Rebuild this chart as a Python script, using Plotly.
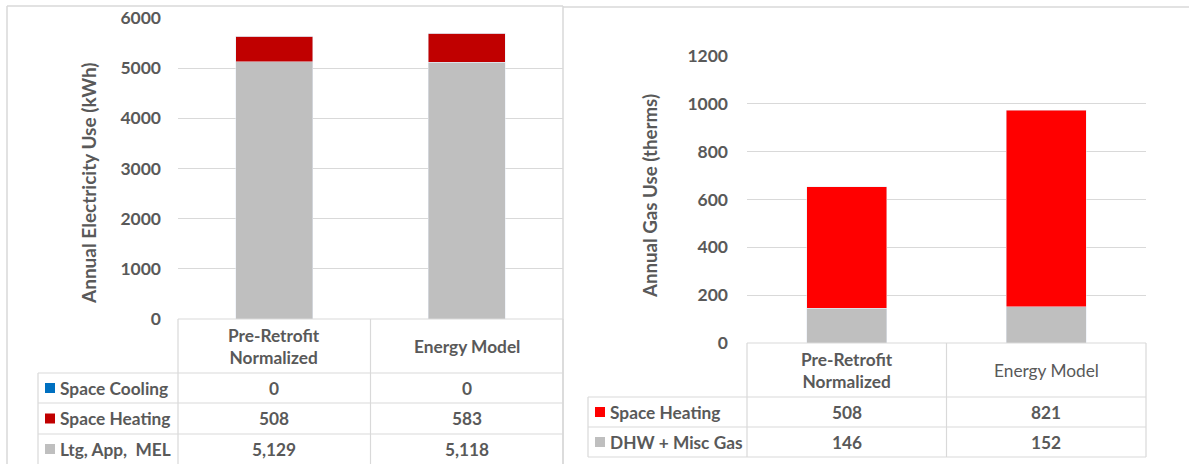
import plotly.graph_objects as go

W, H = 1189, 464

# ---------------- data ----------------
categories = ["Pre-Retrofit Normalized", "Energy Model"]
header_labels = ["Pre-Retrofit<br>Normalized", "Energy Model"]

elec_series = ["Space Cooling", "Space Heating", "Ltg, App,  MEL"]
elec_cooling = [0, 0]
elec_heating = [508, 583]
elec_ltg = [5129, 5118]
elec_colors = ["#0070C0", "#C00000", "#BFBFBF"]

gas_series = ["Space Heating", "DHW + Misc Gas"]
gas_heating = [508, 821]
gas_dhw = [146, 152]
gas_colors = ["#FF0000", "#BFBFBF"]

elec_ticks = [0, 1000, 2000, 3000, 4000, 5000, 6000]
gas_ticks = [0, 200, 400, 600, 800, 1000, 1200]

TXT = "#595959"
GRID = "#D9D9D9"
FONT = "Lato"
TS = 17.3  # table font size


def px(x):
    return x / W


def py(y):
    return 1 - y / H


fig = go.Figure()

# stacked bars (bottom first)
fig.add_trace(go.Bar(x=categories, y=elec_ltg, marker_color=elec_colors[2], name=elec_series[2],
                     xaxis="x", yaxis="y"))
fig.add_trace(go.Bar(x=categories, y=elec_heating, marker_color=elec_colors[1], name=elec_series[1],
                     xaxis="x", yaxis="y"))
fig.add_trace(go.Bar(x=categories, y=elec_cooling, marker_color=elec_colors[0], name=elec_series[0],
                     xaxis="x", yaxis="y"))
fig.add_trace(go.Bar(x=categories, y=gas_dhw, marker_color=gas_colors[1], name=gas_series[1],
                     xaxis="x2", yaxis="y2"))
fig.add_trace(go.Bar(x=categories, y=gas_heating, marker_color=gas_colors[0], name=gas_series[0],
                     xaxis="x2", yaxis="y2"))

# geometry (pixels)
L = dict(x0=178, x1=563, ytop=18, ybot=319, leg0=38, rows=[319, 373, 403, 434, 464])
R = dict(x0=747, x1=1146, ytop=56, ybot=343, leg0=588, rows=[343, 397, 427, 457])

tickfont = dict(family=FONT, size=17.5, color=TXT, weight="bold")

fig.update_layout(
    width=W, height=H, margin=dict(l=0, r=0, t=0, b=0, autoexpand=False),
    paper_bgcolor="white", plot_bgcolor="white",
    barmode="stack", bargap=0.6, showlegend=False,
    font=dict(family=FONT, color=TXT),
    xaxis=dict(domain=[px(L["x0"]), px(L["x1"])], anchor="y", showticklabels=False,
               showgrid=False, zeroline=False, showline=False, automargin=False),
    yaxis=dict(domain=[py(L["ybot"]), py(L["ytop"])], anchor="x", range=[0, 6000],
               tickvals=elec_ticks, showgrid=True, gridcolor=GRID, gridwidth=1,
               zeroline=False, showline=False, ticks="", tickfont=tickfont,
               ticklabelstandoff=16, automargin=False),
    xaxis2=dict(domain=[px(R["x0"]), px(R["x1"])], anchor="y2", showticklabels=False,
                showgrid=False, zeroline=False, showline=False, automargin=False),
    yaxis2=dict(domain=[py(R["ybot"]), py(R["ytop"])], anchor="x2", range=[0, 1200],
                tickvals=gas_ticks, showgrid=True, gridcolor=GRID, gridwidth=1,
                zeroline=False, showline=False, ticks="", tickfont=tickfont,
                ticklabelstandoff=18, automargin=False),
)

shapes = []
annos = []


def hline(x0, x1, y, w=1.2):
    shapes.append(dict(type="line", xref="paper", yref="paper", x0=px(x0), x1=px(x1),
                       y0=py(y), y1=py(y), line=dict(color=GRID, width=w)))


def vline(x, y0, y1, w=1.2):
    shapes.append(dict(type="line", xref="paper", yref="paper", x0=px(x), x1=px(x),
                       y0=py(y0), y1=py(y1), line=dict(color=GRID, width=w)))


def text(x, y, s, size=TS, bold=True, xanchor="center", angle=0):
    annos.append(dict(xref="paper", yref="paper", x=px(x), y=py(y), text=s, showarrow=False,
                      xanchor=xanchor, yanchor="middle", textangle=angle,
                      font=dict(family=FONT, size=size, color=TXT,
                                weight="bold" if bold else "normal")))


# panel borders
hline(7, 563, 6, 1.5)
vline(7, 6, 464, 1.5)
vline(563, 6, 464, 1.5)
hline(563, 1189, 7, 1.5)


def build_table(G, series, values, colors, header_bold, label_bold, last_open):
    rows = G["rows"]
    xmid = (G["x0"] + G["x1"]) / 2
    cols = [G["x0"], xmid, G["x1"]]
    hline(G["x0"], G["x1"], rows[0])
    for c in cols:
        vline(c, rows[0], rows[-1])
    vline(G["leg0"], rows[1], rows[-1])
    for r in rows[1:]:
        if r == rows[-1] and last_open:
            continue
        hline(G["leg0"], G["x1"], r)
    hc = (rows[0] + rows[1]) / 2
    for i, lab in enumerate(header_labels):
        text((cols[i] + cols[i + 1]) / 2, hc, lab, bold=header_bold[i])
    for k, (name, vals, col) in enumerate(zip(series, values, colors)):
        yc = (rows[k + 1] + rows[k + 2]) / 2
        sx = G["leg0"] + 7
        shapes.append(dict(type="rect", xref="paper", yref="paper", x0=px(sx), x1=px(sx + 10),
                           y0=py(yc - 5), y1=py(yc + 5), fillcolor=col, line=dict(width=0)))
        text(sx + 13, yc, name, bold=label_bold, xanchor="left")
        for i, v in enumerate(vals):
            text((cols[i] + cols[i + 1]) / 2, yc, f"{v:,}", bold=True)


build_table(L, elec_series, [elec_cooling, elec_heating, elec_ltg], elec_colors,
            header_bold=[True, True], label_bold=True, last_open=True)
build_table(R, gas_series, [gas_heating, gas_dhw], gas_colors,
            header_bold=[True, False], label_bold=True, last_open=False)

# axis titles
text(88, 183, "Annual Electricity Use (kWh)", size=19, bold=True, angle=-90)
text(650, 196, "Annual Gas Use (therms)", size=18.7, bold=True, angle=-90)

fig.update_layout(shapes=shapes, annotations=annos)
fig.write_html("out.html", config={"displayModeBar": False})
